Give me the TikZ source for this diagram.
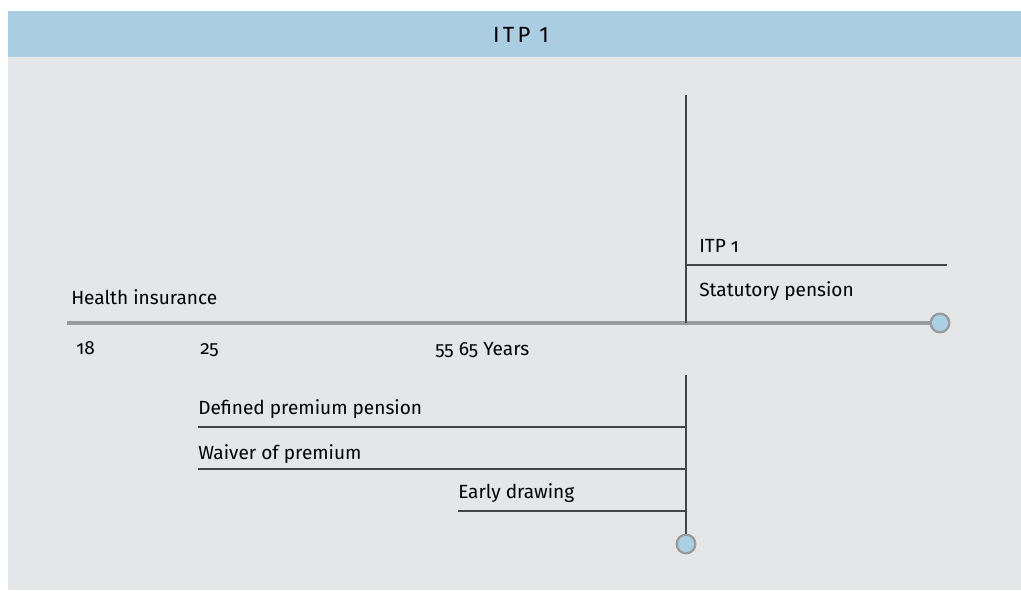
\documentclass[tikz,border=0pt]{standalone}
\usepackage{fontspec}
\setmainfont{Fira Sans}[Numbers=OldStyle]
\newfontfamily\headfont{Fira Sans}[Numbers=Lining, LetterSpace=15]
\usepackage{xcolor}
\usetikzlibrary{positioning}

\definecolor{bandblue}{HTML}{AACDE1}
\definecolor{panelgray}{HTML}{E5E6E8}
\definecolor{axisgray}{HTML}{9A9A9A}
\definecolor{rulegray}{HTML}{454545}
\definecolor{dotblue}{HTML}{A9D0E4}

\tikzset{
  lbl/.style={anchor=base west, inner sep=0pt, font=\fontsize{14.3}{17}\selectfont},
  ruleline/.style={draw=rulegray, line width=1pt},
  axisline/.style={draw=axisgray, line width=3pt},
  enddot/.style={circle, draw=axisgray, line width=1.7pt, fill=dotblue, minimum size=14pt, inner sep=0pt}
}

\begin{document}
\begin{tikzpicture}[x=0.75pt, y=-0.75pt]
  \useasboundingbox (0,0) rectangle (1021,590);
  % panel and header band
  \fill[panelgray] (8,11) rectangle (1021,590);
  \fill[bandblue] (8,11) rectangle (1021,57);
  \node[font=\headfont\fontsize{16.5}{18}\selectfont] (head) at (521,34.5) {ITP 1};

  % time axis
  \coordinate (axisL) at (67,323);
  \coordinate (axisX) at (686,323);
  \node[enddot] (dotR) at (940,323) {};
  \draw[axisline] (axisL) -- (dotR.west);

  % upper branch
  \coordinate (upTop) at (686,95);
  \coordinate (itpL) at (686,265);
  \coordinate (itpR) at (947,265);
  \draw[ruleline] (upTop) -- (axisX);
  \draw[ruleline] (itpL) -- (itpR);
  \node[lbl] (itp) at (699,252) {ITP 1};
  \node[lbl] (stat) at (699,296) {Statutory pension};
  \node[lbl] (health) at (71,304) {Health insurance};

  % ages
  \node[lbl] (a18) at (76,354) {18};
  \node[lbl] (a25) at (200,354) {25};
  \node[lbl] (a55) at (435,355) {55 65 Years};

  % lower branch
  \coordinate (lowTop) at (686,375);
  \node[enddot] (dotB) at (686,544) {};
  \draw[ruleline] (lowTop) -- (dotB.north);
  \coordinate (defL) at (198,427);
  \coordinate (defR) at (686,427);
  \coordinate (waiL) at (198,469);
  \coordinate (waiR) at (686,469);
  \coordinate (earL) at (458,511);
  \coordinate (earR) at (686,511);
  \draw[ruleline] (defL) -- (defR);
  \draw[ruleline] (waiL) -- (waiR);
  \draw[ruleline] (earL) -- (earR);
  \node[lbl] (def) at (198,414) {Defined premium pension};
  \node[lbl] (wai) at (198,459) {Waiver of premium};
  \node[lbl] (ear) at (458,498) {Early drawing};
\end{tikzpicture}
\end{document}
